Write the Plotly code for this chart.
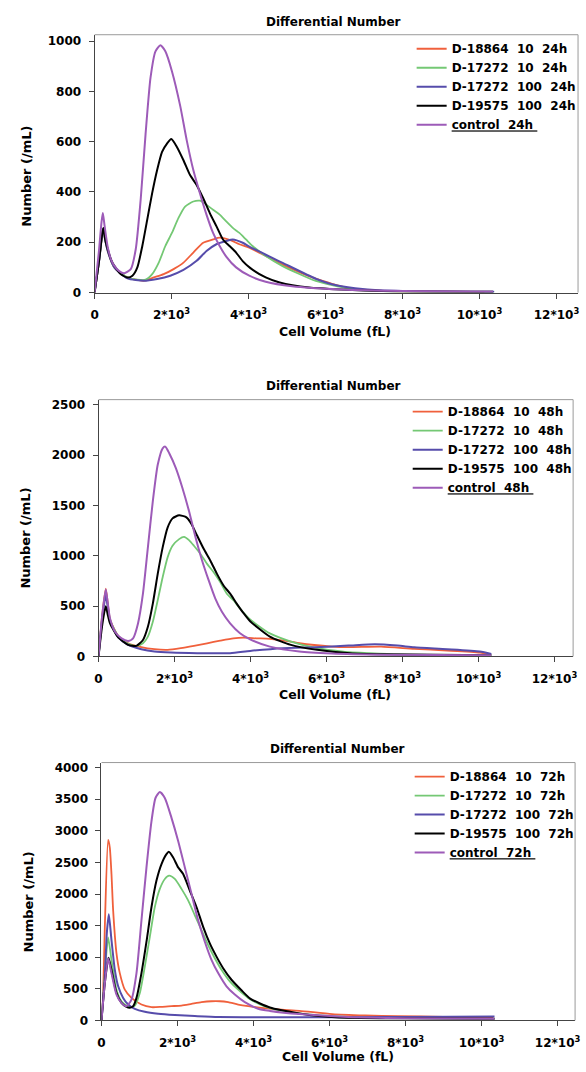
import plotly.graph_objects as go

# ---------------- data: 24 h ----------------
x24_red = [0, 120, 200, 231, 270, 342, 513, 855, 1282, 1539, 1795, 2052, 2309, 2565, 2822, 3078, 3249, 3506, 3762, 4019, 4361, 4885, 5746, 6598, 7500, 10130]
y24_red = [0, 130, 235, 257, 215, 165, 100, 60, 47, 60, 73, 93, 119, 159, 198, 211, 218, 209, 192, 178, 152, 111, 55, 18, 7, 3]
x24_green = [0, 120, 200, 231, 270, 342, 513, 855, 1111, 1325, 1496, 1667, 1838, 2009, 2180, 2351, 2565, 2736, 2907, 3078, 3249, 3420, 3591, 3762, 3933, 4104, 4446, 4885, 5746, 6598, 7450, 10380]
y24_green = [0, 130, 235, 257, 215, 165, 100, 60, 51, 51, 73, 119, 185, 237, 297, 342, 362, 365, 349, 329, 310, 283, 257, 237, 211, 185, 145, 105, 46, 16, 6, 3]
x24_blue = [0, 120, 200, 231, 270, 342, 513, 855, 1282, 1625, 1966, 2309, 2651, 2907, 3164, 3420, 3591, 3848, 4040, 4885, 5746, 6166, 7025, 8000, 10380]
y24_blue = [0, 130, 235, 257, 215, 165, 100, 56, 47, 54, 67, 90, 126, 165, 192, 205, 211, 198, 181, 118, 55, 33, 13, 6, 3]
x24_black = [0, 120, 200, 231, 270, 342, 430, 513, 684, 855, 983, 1111, 1240, 1368, 1496, 1625, 1753, 1881, 1992, 2138, 2309, 2480, 2651, 2822, 2993, 3164, 3335, 3506, 3677, 3848, 4040, 4446, 4808, 5575, 6413, 7500, 10350]
y24_black = [0, 130, 235, 257, 215, 172, 130, 106, 73, 60, 67, 100, 185, 290, 395, 487, 559, 592, 610, 579, 526, 467, 428, 375, 316, 264, 211, 185, 159, 125, 98, 60, 40, 20, 12, 6, 3]
x24_purple = [0, 110, 180, 214, 260, 342, 430, 513, 640, 770, 940, 1069, 1197, 1325, 1453, 1582, 1710, 1838, 2009, 2223, 2394, 2565, 2736, 2907, 3078, 3249, 3420, 3677, 4019, 4446, 5130, 6413, 8000, 10350]
y24_purple = [0, 160, 280, 316, 265, 180, 130, 106, 85, 77, 93, 172, 369, 631, 854, 959, 983, 959, 880, 743, 605, 487, 395, 310, 237, 185, 143, 100, 67, 43, 25, 12, 6, 3]

# ---------------- data: 48 h ----------------
x48_red = [0, 100, 190, 240, 303, 519, 779, 1126, 1472, 1818, 2165, 2511, 2857, 3203, 3550, 3810, 4156, 4508, 5022, 5285, 6140, 6571, 7436, 8308, 9171, 10034, 10300]
y48_red = [0, 420, 672, 540, 367, 203, 131, 92, 72, 66, 82, 105, 131, 157, 180, 187, 180, 175, 150, 131, 98, 92, 98, 75, 59, 39, 20]
x48_green = [0, 100, 190, 240, 303, 519, 779, 996, 1169, 1299, 1429, 1558, 1688, 1818, 1948, 2121, 2251, 2381, 2511, 2684, 2857, 3030, 3203, 3377, 3550, 3723, 3990, 4508, 5062, 5753, 6444, 7135, 7912, 10337]
y48_green = [0, 400, 640, 520, 361, 203, 125, 105, 131, 197, 344, 558, 787, 984, 1099, 1165, 1188, 1155, 1099, 1017, 919, 837, 738, 623, 558, 476, 367, 229, 148, 82, 49, 33, 20, 12]
x48_blue = [0, 100, 190, 240, 303, 519, 779, 1126, 1472, 1905, 2597, 3463, 3990, 4854, 5717, 6580, 7272, 7868, 8308, 9171, 10034, 10337]
y48_blue = [0, 380, 607, 500, 344, 190, 115, 72, 49, 39, 33, 33, 55, 82, 92, 108, 121, 108, 91, 72, 49, 25]
x48_black = [0, 100, 190, 240, 303, 519, 779, 996, 1169, 1299, 1429, 1558, 1688, 1818, 1948, 2121, 2294, 2424, 2597, 2771, 2944, 3117, 3290, 3463, 3636, 3810, 3990, 4508, 5062, 5753, 6617, 7480, 10337]
y48_black = [0, 320, 499, 420, 328, 190, 115, 105, 164, 295, 525, 820, 1083, 1280, 1371, 1401, 1385, 1329, 1198, 1066, 951, 820, 705, 623, 525, 433, 350, 197, 115, 66, 33, 23, 12]
x48_purple = [0, 100, 190, 240, 303, 433, 606, 779, 909, 1039, 1169, 1299, 1429, 1558, 1688, 1758, 1861, 2035, 2208, 2381, 2554, 2727, 2900, 3074, 3247, 3463, 3723, 3990, 4508, 5285, 6140, 7500, 10337]
y48_purple = [0, 420, 666, 540, 377, 246, 180, 154, 180, 328, 623, 1083, 1542, 1903, 2067, 2083, 2018, 1870, 1673, 1444, 1181, 951, 755, 574, 443, 328, 230, 170, 98, 49, 30, 18, 12]

# ---------------- data: 72 h ----------------
x72_red = [0, 44, 88, 175, 219, 263, 307, 395, 482, 614, 789, 1052, 1316, 1579, 1842, 2105, 2368, 2631, 2894, 3113, 3333, 3596, 3859, 4210, 4648, 5207, 6071, 6935, 7799, 9000, 10300]
y72_red = [0, 434, 1480, 2855, 2735, 2316, 1741, 1061, 748, 486, 356, 251, 209, 214, 225, 235, 261, 288, 303, 303, 288, 251, 225, 199, 172, 151, 99, 78, 68, 55, 47]
x72_green = [0, 90, 175, 263, 395, 526, 658, 772, 877, 1009, 1140, 1272, 1403, 1535, 1666, 1780, 1929, 2105, 2280, 2456, 2631, 2806, 2982, 3157, 3376, 3596, 3859, 4210, 4648, 5174, 5876, 6578, 8000, 10340]
y72_green = [0, 750, 1312, 957, 486, 303, 235, 209, 235, 434, 852, 1323, 1794, 2081, 2238, 2290, 2238, 2081, 1898, 1663, 1428, 1192, 983, 800, 617, 486, 356, 241, 162, 110, 73, 52, 35, 25]
x72_blue = [0, 88, 140, 193, 263, 351, 439, 570, 702, 877, 1140, 1491, 1929, 2456, 3070, 3912, 5262, 6578, 8000, 10340]
y72_blue = [0, 695, 1375, 1679, 1271, 800, 539, 356, 251, 183, 136, 105, 84, 68, 52, 50, 48, 50, 55, 60]
x72_black = [0, 90, 185, 263, 395, 526, 658, 745, 833, 921, 1052, 1184, 1316, 1447, 1579, 1710, 1772, 1886, 2017, 2149, 2324, 2499, 2675, 2850, 3026, 3201, 3420, 3683, 3912, 4430, 5207, 5725, 6244, 8000, 10340]
y72_black = [0, 600, 990, 800, 434, 277, 214, 199, 225, 356, 748, 1245, 1794, 2212, 2473, 2630, 2667, 2578, 2421, 2317, 2055, 1794, 1480, 1218, 1009, 826, 643, 476, 345, 204, 110, 68, 47, 32, 25]
x72_purple = [0, 90, 175, 263, 395, 526, 658, 789, 921, 1052, 1184, 1316, 1421, 1535, 1666, 1842, 2017, 2193, 2368, 2543, 2719, 2894, 3070, 3289, 3508, 3771, 4122, 4430, 5207, 6503, 8000, 10340]
y72_purple = [0, 600, 983, 748, 408, 277, 225, 329, 748, 1584, 2421, 3153, 3519, 3613, 3519, 3205, 2839, 2421, 2003, 1584, 1245, 957, 748, 539, 408, 288, 183, 150, 99, 54, 35, 25]

x_tickvals = [0, 2000, 4000, 6000, 8000, 10000, 12000]
x_ticktext = ["0", "2*10<sup>3</sup>", "4*10<sup>3</sup>", "6*10<sup>3</sup>", "8*10<sup>3</sup>",
              "10*10<sup>3</sup>", "12*10<sup>3</sup>"]
y_ticks_24 = [0, 200, 400, 600, 800, 1000]
y_ticks_48 = [0, 500, 1000, 1500, 2000, 2500]
y_ticks_72 = [0, 500, 1000, 1500, 2000, 2500, 3000, 3500, 4000]

series_names = ["D-18864\u00a0\u00a010\u00a0\u00a0{t}", "D-17272\u00a0\u00a010\u00a0\u00a0{t}",
                "D-17272\u00a0\u00a0100\u00a0\u00a0{t}", "D-19575\u00a0\u00a0100\u00a0\u00a0{t}",
                "<u>control\u00a0\u00a0{t}\u00a0</u>"]
colors = ["#f0603c", "#74c874", "#564cab", "#000000", "#9d5bb8"]
widths = [1.8, 1.8, 2.0, 2.0, 2.0]

FONT = "DejaVu Sans"

fig = go.Figure()

panels = [
    ("24h", [(x24_red, y24_red), (x24_green, y24_green), (x24_blue, y24_blue), (x24_black, y24_black), (x24_purple, y24_purple)], "", "legend"),
    ("48h", [(x48_red, y48_red), (x48_green, y48_green), (x48_blue, y48_blue), (x48_black, y48_black), (x48_purple, y48_purple)], "2", "legend2"),
    ("72h", [(x72_red, y72_red), (x72_green, y72_green), (x72_blue, y72_blue), (x72_black, y72_black), (x72_purple, y72_purple)], "3", "legend3"),
]

for t, data, ax, leg in panels:
    for i, (xs, ys) in enumerate(data):
        fig.add_trace(go.Scatter(
            x=xs, y=ys, mode="lines", name=series_names[i].format(t=t),
            line=dict(color=colors[i], width=widths[i], shape="spline", smoothing=0.6),
            xaxis="x" + ax, yaxis="y" + ax, legend=leg, showlegend=True))

# pixel geometry -> paper domains
W, H = 586, 1072
geo = [  # left, right, top, bottom (px), ymax, xmax, yticks
    (92, 583, 33, 293, 1025, 12560, y_ticks_24),
    (96, 578, 401, 660, 2550, 12490, y_ticks_48),
    (99, 580, 767, 1027, 4080, 12460, y_ticks_72),
]

tickfont = dict(family=FONT, size=12, color="black", weight="bold")
for k, (l, r, t_, b, ymax, xmax, yt) in enumerate(geo):
    sfx = "" if k == 0 else str(k + 1)
    fig.layout["xaxis" + sfx] = dict(
        domain=[l / W, r / W], anchor="y" + sfx, range=[0, xmax],
        tickvals=x_tickvals, ticktext=x_ticktext, ticks="outside", ticklen=5,
        tickcolor="#444", showline=True, linecolor="#444", linewidth=1, ticklabelstandoff=6,
        showgrid=False, zeroline=False, tickfont=tickfont)
    fig.layout["yaxis" + sfx] = dict(
        domain=[1 - b / H, 1 - t_ / H], anchor="x" + sfx, range=[0, ymax],
        tickvals=yt, ticks="outside", ticklen=5, tickcolor="#444",
        showline=True, linecolor="#444", linewidth=1, ticklabelstandoff=5,
        showgrid=False, zeroline=False, tickfont=tickfont)
    fig.add_shape(type="line", xref="x" + sfx + " domain", yref="y" + sfx + " domain",
                  x0=0, x1=1, y0=1, y1=1, line=dict(color="#9a9a9a", width=1))
    fig.add_shape(type="line", xref="x" + sfx + " domain", yref="y" + sfx + " domain",
                  x0=1, x1=1, y0=0, y1=1, line=dict(color="#9a9a9a", width=1))

legfont = dict(family=FONT, size=12, color="black", weight="bold")
leg_pos = [(414, 32.5), (410, 398.5), (412, 766.5)]
for k, (lx, ly) in enumerate(leg_pos):
    name = "legend" if k == 0 else "legend" + str(k + 1)
    fig.layout[name] = dict(x=lx / W, y=1 - ly / H, xanchor="left", yanchor="top",
                            bgcolor="rgba(0,0,0,0)", borderwidth=0, font=legfont,
                            tracegroupgap=0)

titles = [(334.5, 20), (334.5, 387), (338.5, 753)]
xtitles = [(336, 332), (336.5, 698), (339.5, 1063)]
ytitles = [(22, 175.5), (22, 540.5), (25, 907.5)]
for (tx, ty) in titles:
    fig.add_annotation(text="Differential Number", x=tx / W, y=1 - ty / H, xref="paper", yref="paper",
                       showarrow=False, xanchor="center", yanchor="middle",
                       font=dict(family=FONT, size=12, color="black", weight="bold"))
for (tx, ty) in xtitles:
    fig.add_annotation(text="Cell Volume (fL)", x=tx / W, y=1 - ty / H, xref="paper", yref="paper",
                       showarrow=False, xanchor="center", yanchor="middle",
                       font=dict(family=FONT, size=12.5, color="black", weight="bold"))
for (tx, ty) in ytitles:
    fig.add_annotation(text="Number (/mL)", x=tx / W, y=1 - ty / H, xref="paper", yref="paper",
                       showarrow=False, xanchor="center", yanchor="middle", textangle=-90,
                       font=dict(family=FONT, size=13, color="black", weight="bold"))

fig.update_layout(width=W, height=H, margin=dict(l=0, r=0, t=0, b=0),
                  paper_bgcolor="white", plot_bgcolor="white", showlegend=True)

fig.write_html("out.html", config={"displayModeBar": False},
               post_script="document.body.style.margin='0';document.body.style.overflow='hidden';")
